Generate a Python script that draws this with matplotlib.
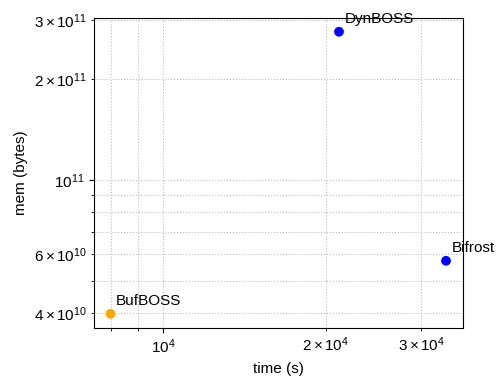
import matplotlib
matplotlib.use("Agg")
import matplotlib.pyplot as plt

plt.rcParams['font.family'] = ['Liberation Sans', 'DejaVu Sans']
plt.rcParams['mathtext.fontset'] = 'custom'
plt.rcParams['mathtext.rm'] = 'Liberation Sans'
plt.rcParams['mathtext.it'] = 'Liberation Sans:italic'

tools = ["BufBOSS", "DynBOSS", "Bifrost"]
times = [8000, 21150, 33350]
mems = [3.98e10, 2.77e11, 5.73e10]
colors = ["orange", "blue", "blue"]

fig = plt.figure(figsize=(4.99, 3.76), dpi=100)
ax = fig.add_axes([94/499, 1-328/376, (463-94)/499, (328-18)/376])
ax.set_xscale('log')
ax.set_yscale('log')
ax.scatter(times, mems, c=colors, s=36, zorder=3)
for t, m, n in zip(times, mems, tools):
    ax.annotate(n, (t, m), xytext=(4, 4), textcoords='offset points',
                fontsize=11, ha='left', va='bottom')
ax.set_xlim(7457, 35850)
ax.set_ylim(3.61e10, 3.045e11)
ax.grid(True, which='both', linestyle=':', color='#bbbbbb', linewidth=0.8)
ax.set_axisbelow(True)
ax.set_xlabel("time (s)", fontsize=11)
ax.set_ylabel("mem (bytes)", fontsize=11)
ax.tick_params(which='both', labelsize=11)
fig.savefig("out.png", dpi=100)
